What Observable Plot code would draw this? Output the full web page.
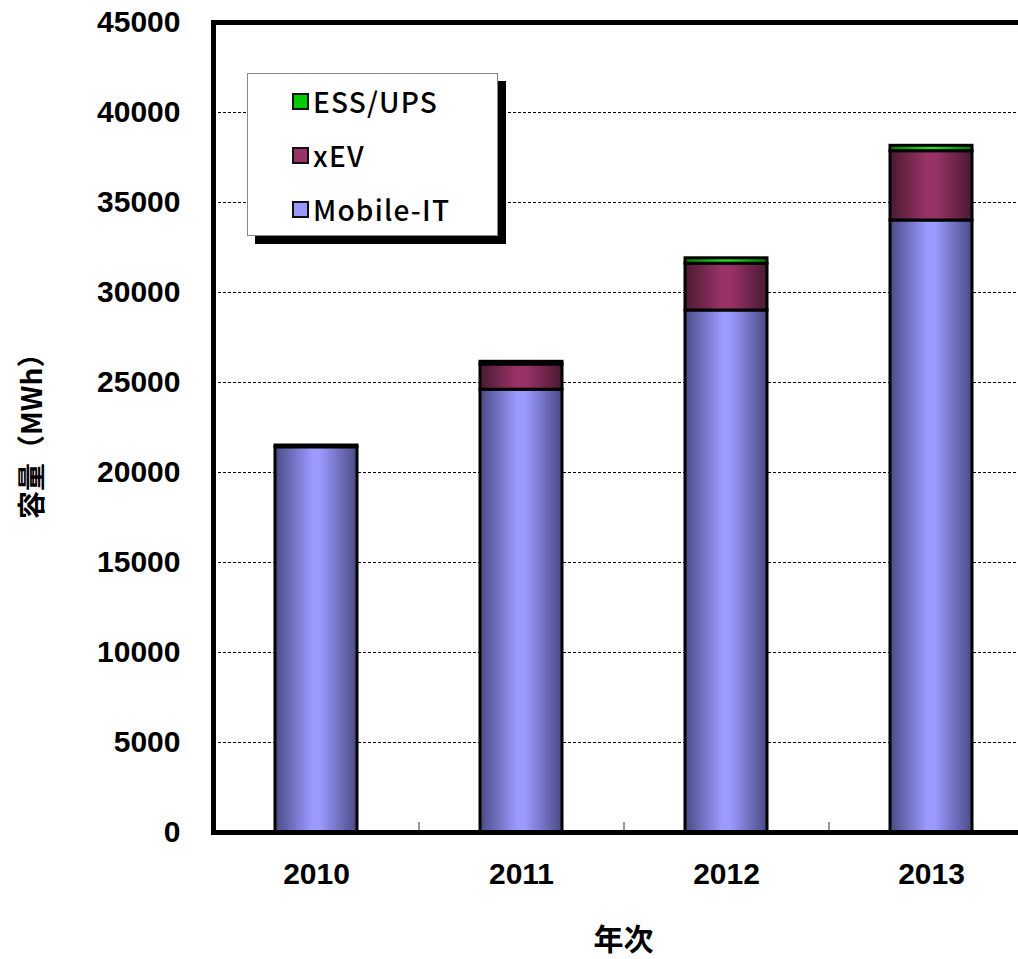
<!DOCTYPE html>
<html>
<head>
<meta charset="utf-8">
<script src="https://cdn.jsdelivr.net/npm/d3@7"></script>
<script src="https://cdn.jsdelivr.net/npm/@observablehq/plot@0.6"></script>
<style>
  html, body { margin: 0; padding: 0; background: #fff; overflow: hidden; }
  #wrap { position: relative; width: 1018px; height: 959px; overflow: hidden; }
  #chart { width: 1033px; }
  #chart svg { max-width: none !important; }
  #legend {
    position: absolute; left: 247px; top: 73px; width: 249px; height: 161px;
    background: #fff; border: 1px solid #888; box-shadow: 8px 8px 0 #000;
    font-family: "Noto Sans CJK JP", "Liberation Sans", sans-serif; font-weight: 500; font-size: 28px; letter-spacing: 1.2px; color: #000;
  }
  #legend .row { position: absolute; left: 44px; display: flex; align-items: center; height: 30px; }
  #legend .sw { width: 13px; height: 13px; border: 2px solid #111; margin-right: 4px; }
</style>
</head>
<body>
<div id="wrap"><div id="chart"></div><div id="legend"></div></div>
<script>
const years = ["2010", "2011", "2012", "2013"];
const seriesNames = ["Mobile-IT", "xEV", "ESS/UPS"];
const mobileIT = [21400, 24600, 29000, 34000];
const xEV = [100, 1400, 2600, 3850];
const essUps = [0, 150, 300, 300];
const yTicks = [0, 5000, 10000, 15000, 20000, 25000, 30000, 35000, 40000, 45000];
const legendOrder = ["ESS/UPS", "xEV", "Mobile-IT"];

const gradients = {
  "Mobile-IT": {id: "gMob", edge: "#4a4a86", mid: "#9a9aff", swatch: "#9999ff"},
  "xEV": {id: "gXev", edge: "#4a1a33", mid: "#993366", swatch: "#993366"},
  "ESS/UPS": {id: "gEss", edge: "#007a00", mid: "#22dd22", swatch: "#00cc00"}
};

const seriesValues = [mobileIT, xEV, essUps];
const rows = [];
years.forEach((y, i) => {
  seriesNames.forEach((s, j) => rows.push({year: y, series: s, value: seriesValues[j][i]}));
});

const numFont = "Liberation Sans, Arial, sans-serif";

const chart = Plot.plot({
  width: 1033,
  height: 959,
  marginLeft: 213,
  marginRight: 0,
  marginTop: 22,
  marginBottom: 127,
  style: {fontFamily: numFont, background: "#fff", overflow: "visible", maxWidth: "none"},
  x: {domain: years, paddingInner: 0.6, paddingOuter: 0.3, label: null},
  y: {domain: [0, 45000], label: null},
  color: {type: "ordinal", domain: seriesNames, range: seriesNames.map(s => `url(#${gradients[s].id})`)},
  marks: [
    Plot.gridY(yTicks, {stroke: "#000", strokeOpacity: 1, strokeWidth: 1, strokeDasharray: "3,2"}),
    Plot.ruleX(years.slice(1), {x: d => d, y1: 0, y2: 560, dx: -102.5, stroke: "#777", strokeWidth: 1.5}),
    Plot.barY(rows, {x: "year", y: "value", fill: "series", stroke: "#000", strokeWidth: 3, order: null}),
    Plot.frame({stroke: "#000", strokeWidth: 5}),
    Plot.axisY(yTicks, {tickSize: 0, tickPadding: 33, fontSize: 30, fontWeight: "bold", tickFormat: d => String(d), label: null}),
    Plot.axisX({tickSize: 0, tickPadding: 30, fontSize: 30, fontWeight: "bold", label: null}),
    Plot.text([22400], {y: d => d, text: () => "容量（MWh）", frameAnchor: "left", textAnchor: "middle", dx: -180, rotate: -90,
      fontSize: 28, fontWeight: "bold", fontFamily: "Noto Sans CJK JP"}),
    Plot.text(["年次"], {text: d => d, frameAnchor: "bottom", dy: 108, fontSize: 30, fontWeight: "bold",
      fontFamily: "Noto Sans CJK JP", lineAnchor: "middle"})
  ]
});
chart.style.maxWidth = "none";

// gradient definitions
const ns = "http://www.w3.org/2000/svg";
const defs = document.createElementNS(ns, "defs");
seriesNames.forEach(s => {
  const g = gradients[s];
  const lg = document.createElementNS(ns, "linearGradient");
  lg.setAttribute("id", g.id);
  lg.setAttribute("x1", "0"); lg.setAttribute("x2", "1"); lg.setAttribute("y1", "0"); lg.setAttribute("y2", "0");
  [[0, g.edge], [0.45, g.mid], [0.55, g.mid], [1, g.edge]].forEach(([o, c]) => {
    const st = document.createElementNS(ns, "stop");
    st.setAttribute("offset", o);
    st.setAttribute("stop-color", c);
    lg.appendChild(st);
  });
  defs.appendChild(lg);
});
chart.insertBefore(defs, chart.firstChild);
document.getElementById("chart").appendChild(chart);

// legend
const legend = document.getElementById("legend");
const rowTops = [12, 66, 120];
legendOrder.forEach((s, i) => {
  const r = document.createElement("div");
  r.className = "row";
  r.style.top = rowTops[i] + "px";
  const sw = document.createElement("div");
  sw.className = "sw";
  sw.style.background = gradients[s].swatch;
  const t = document.createElement("span");
  t.textContent = s;
  r.appendChild(sw); r.appendChild(t);
  legend.appendChild(r);
});
</script>
</body>
</html>
